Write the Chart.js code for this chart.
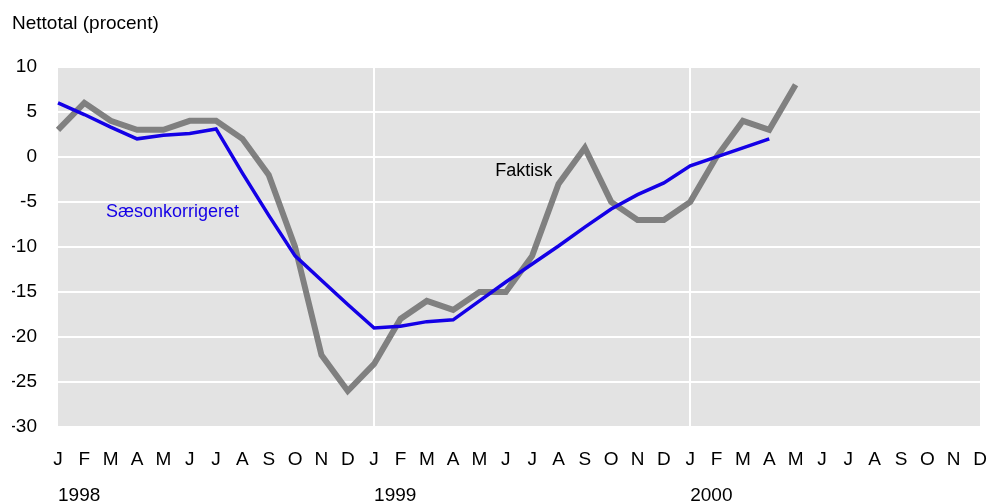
<!DOCTYPE html>
<html>
<head>
<meta charset="utf-8">
<script src="https://cdn.jsdelivr.net/npm/chart.js@4"></script>
<style>
  html, body { margin: 0; padding: 0; background: #fff; }
  #wrap { width: 989px; height: 504px; }
</style>
</head>
<body>
<div id="wrap"><canvas id="chart" width="989" height="504"></canvas></div>
<script>
// Månedsbogstaver og år
const monthLetters = ['J', 'F', 'M', 'A', 'M', 'J', 'J', 'A', 'S', 'O', 'N', 'D'];
const years = ['1998', '1999', '2000'];

// Nettotal (procent), jan 1998 - maj 2000
const faktisk = [3, 6, 4, 3, 3, 4, 4, 2, -2, -10, -22, -26,
                 -23, -18, -16, -17, -15, -15, -11, -3, 1, -5, -7, -7,
                 -5, 0, 4, 3, 8];
// Sæsonkorrigeret, jan 1998 - apr 2000
const saesonkorrigeret = [6, 4.7, 3.3, 2, 2.4, 2.6, 3.1, -1.8, -6.5, -11, -13.7, -16.4,
                          -19, -18.8, -18.3, -18.1, -16, -13.9, -11.9, -9.9, -7.8, -5.8, -4.2, -2.9,
                          -1, 0, 1, 2];

const yTicks = [10, 5, 0, -5, -10, -15, -20, -25, -30];

// Akselabels bygges ud fra arrays ovenfor
const labels = [];
const yearLabels = [];
years.forEach(y => {
  monthLetters.forEach((m, i) => {
    labels.push(m);
    yearLabels.push(i === 0 ? y : '');
  });
});

const FONT = 'Liberation Sans, Arial, Helvetica, sans-serif';

// Baggrund i plotområdet
const plotBackground = {
  id: 'plotBackground',
  beforeDraw(chart) {
    const { ctx, chartArea: a } = chart;
    ctx.save();
    ctx.fillStyle = '#e3e3e3';
    ctx.fillRect(a.left, a.top, a.right - a.left, a.bottom - a.top);
    ctx.restore();
  }
};

// Tekst ved linjerne
const lineNotes = {
  id: 'lineNotes',
  afterDatasetsDraw(chart) {
    const { ctx, scales } = chart;
    const notes = [
      { text: 'Sæsonkorrigeret', x: 1.82, y: -6.1, color: '#1400e6' },
      { text: 'Faktisk', x: 16.6, y: -1.6, color: '#000' }
    ];
    ctx.save();
    ctx.font = '18px ' + FONT;
    ctx.textAlign = 'left';
    ctx.textBaseline = 'middle';
    notes.forEach(n => {
      ctx.fillStyle = n.color;
      ctx.fillText(n.text, scales.x.getPixelForValue(n.x), scales.y.getPixelForValue(n.y));
    });
    ctx.restore();
  }
};

// Ingen ekstra luft til kantlabels
const noEdgePadding = s => { s.paddingLeft = 0; s.paddingRight = 0; };

new Chart(document.getElementById('chart'), {
  type: 'line',
  data: {
    labels: labels,
    datasets: [{
      label: 'Sæsonkorrigeret',
      data: saesonkorrigeret,
      borderColor: '#1400e6',
      borderWidth: 3.5,
      pointRadius: 0,
      tension: 0
    }, {
      label: 'Faktisk',
      data: faktisk,
      borderColor: '#808080',
      borderWidth: 6,
      pointRadius: 0,
      tension: 0
    }]
  },
  options: {
    responsive: false,
    animation: false,
    layout: { padding: { left: 12, right: 9, top: 0, bottom: 0 } },
    plugins: {
      legend: { display: false },
      tooltip: { enabled: false },
      title: {
        display: true,
        text: 'Nettotal (procent)',
        align: 'start',
        color: '#000',
        font: { family: FONT, size: 19, weight: 'normal' },
        padding: { top: 12, bottom: 32 }
      }
    },
    scales: {
      x: {
        type: 'category',
        offset: false,
        border: { display: false },
        grid: {
          drawTicks: false,
          lineWidth: 2,
          color: c => (c.index === 12 || c.index === 24) ? '#ffffff' : 'rgba(0,0,0,0)'
        },
        ticks: {
          autoSkip: false,
          maxRotation: 0,
          padding: 21,
          color: '#000',
          font: { family: FONT, size: 19 }
        },
        afterFit: s => { s.height = 50; noEdgePadding(s); }
      },
      x2: {
        type: 'category',
        position: 'bottom',
        labels: yearLabels,
        offset: false,
        border: { display: false },
        grid: { display: false, drawTicks: false },
        ticks: {
          autoSkip: false,
          maxRotation: 0,
          align: 'start',
          padding: 7,
          color: '#000',
          font: { family: FONT, size: 19 }
        },
        afterFit: s => { s.height = 27; noEdgePadding(s); }
      },
      y: {
        min: -30,
        max: 10,
        border: { display: false },
        grid: { drawTicks: false, color: '#ffffff', lineWidth: 2 },
        afterBuildTicks: s => { s.ticks = yTicks.map(v => ({ value: v })); },
        ticks: {
          padding: 21,
          color: '#000',
          font: { family: FONT, size: 19 }
        },
        afterFit: s => { s.width = 46; }
      }
    }
  },
  plugins: [plotBackground, lineNotes]
});
</script>
</body>
</html>
